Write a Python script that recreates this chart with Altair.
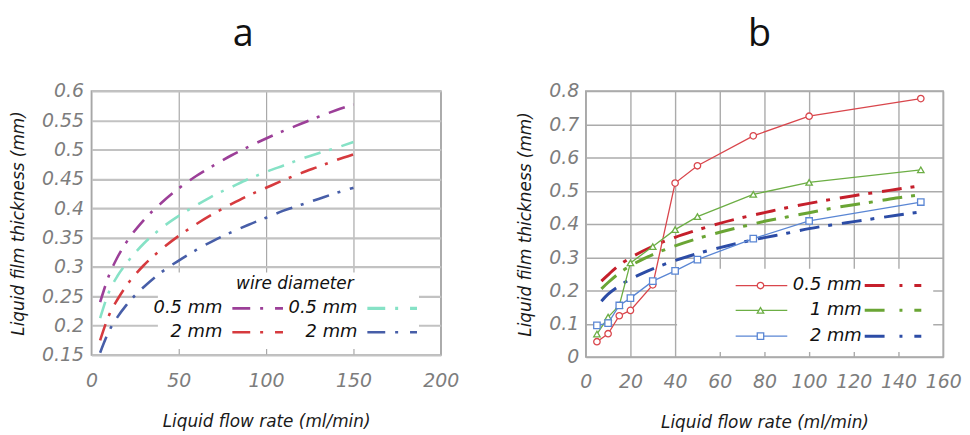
import altair as alt
import pandas as pd

FONT = "DejaVu Sans"

# ---------------- panel a data ----------------
A_X = [5, 10, 15, 20, 30, 40, 50, 60, 70, 80, 90, 100, 110, 120, 130, 140, 150]
A_PURPLE = [0.240, 0.285, 0.317, 0.342, 0.380, 0.409, 0.434, 0.455, 0.473, 0.490, 0.505, 0.519, 0.532, 0.544, 0.556, 0.567, 0.577]
A_CYAN = [0.213, 0.257, 0.285, 0.306, 0.340, 0.366, 0.387, 0.405, 0.422, 0.436, 0.450, 0.462, 0.473, 0.484, 0.494, 0.503, 0.513]
A_RED = [0.175, 0.217, 0.245, 0.268, 0.303, 0.330, 0.353, 0.373, 0.391, 0.407, 0.422, 0.435, 0.448, 0.460, 0.471, 0.482, 0.492]
A_BLUE = [0.154, 0.190, 0.215, 0.235, 0.266, 0.291, 0.311, 0.329, 0.345, 0.359, 0.372, 0.384, 0.396, 0.406, 0.416, 0.426, 0.435]
A_XTICKS = [0, 50, 100, 150, 200]
A_YTICKS = [0.15, 0.2, 0.25, 0.3, 0.35, 0.4, 0.45, 0.5, 0.55, 0.6]

# ---------------- panel b data ----------------
B_X_MEAS = [5, 10, 15, 20, 30, 40, 50, 75, 100, 150]
B_RED_MEAS = [0.046, 0.070, 0.124, 0.140, 0.217, 0.523, 0.575, 0.665, 0.724, 0.777]
B_GREEN_MEAS = [0.069, 0.120, 0.155, 0.283, 0.332, 0.383, 0.422, 0.489, 0.525, 0.563]
B_BLUE_MEAS = [0.095, 0.102, 0.155, 0.177, 0.228, 0.259, 0.293, 0.356, 0.409, 0.466]
B_X_FIT = [7, 10, 15, 20, 30, 40, 50, 60, 70, 80, 90, 100, 110, 120, 130, 140, 150]
B_RED_FIT = [0.228, 0.247, 0.276, 0.298, 0.333, 0.360, 0.382, 0.402, 0.419, 0.434, 0.449, 0.462, 0.474, 0.485, 0.495, 0.505, 0.515]
B_GREEN_FIT = [0.205, 0.224, 0.252, 0.274, 0.308, 0.334, 0.356, 0.375, 0.392, 0.408, 0.421, 0.434, 0.447, 0.458, 0.468, 0.479, 0.488]
B_BLUE_FIT = [0.168, 0.189, 0.214, 0.234, 0.265, 0.290, 0.311, 0.329, 0.345, 0.359, 0.372, 0.386, 0.397, 0.407, 0.417, 0.427, 0.436]
B_XTICKS = [0, 20, 40, 60, 80, 100, 120, 140, 160]
B_YTICKS = [0, 0.1, 0.2, 0.3, 0.4, 0.5, 0.6, 0.7, 0.8]

A_LABELS = ["0.5 mm", "2 mm"]
B_LABELS = ["0.5 mm", "1 mm", "2 mm"]

A_COLORS = {"purple": "#9c3f98", "cyan": "#86e2c6", "red": "#d63a3e", "blue": "#475ea8"}
B_MEAS_COLORS = ["#d9464c", "#6cae44", "#5a86d4"]
B_FIT_COLORS = ["#c51f2b", "#6aa534", "#2c4ca6"]
B_SHAPES = ["circle", "triangle-up", "square"]

A_DASH = [17, 9, 3, 10]
B_DASH = [20, 9, 4, 10]

W_A, H_A = 352, 266
W_B, H_B = 360, 268


def one():
    return pd.DataFrame({"k": [0]})


def txt(x, y, s, align="right", size=18):
    return alt.Chart(one()).mark_text(
        text=s, align=align, baseline="middle", font=FONT, fontStyle="italic",
        fontSize=size, color="#111111"
    ).encode(x=alt.value(x), y=alt.value(y))


def seg(x1, x2, y, color, width, dash=None):
    kw = dict(color=color, strokeWidth=width)
    if dash:
        kw["strokeDash"] = dash
    return alt.Chart(one()).mark_rule(**kw).encode(
        x=alt.value(x1), x2=alt.value(x2), y=alt.value(y))


def box(x1, x2, y1, y2):
    return alt.Chart(one()).mark_rect(color="white").encode(
        x=alt.value(x1), x2=alt.value(x2), y=alt.value(y1), y2=alt.value(y2))


label_style = dict(labelFont=FONT, labelFontStyle="italic", labelFontSize=19,
                   labelColor="#7d7d7d", labelOverlap=False, labelFlush=False,
                   titleFont=FONT, titleFontStyle="italic", titleFontSize=17,
                   titleFontWeight="normal", titleColor="#1a1a1a",
                   domain=False, ticks=False)

# ---------------- panel a ----------------
xa = alt.X("x:Q", scale=alt.Scale(domain=[0, 200], nice=False, zero=False),
           axis=alt.Axis(values=A_XTICKS, title="Liquid flow rate (ml/min)",
                         grid=True, gridColor="#a9a9a9", gridWidth=1.2,
                         labelPadding=17, titlePadding=23, **label_style))
ya = alt.Y("y:Q", scale=alt.Scale(domain=[0.15, 0.6], nice=False, zero=False),
           axis=alt.Axis(values=A_YTICKS, format=".2~f", title="Liquid film thickness (mm)",
                         grid=True, gridColor="#c2c2c2", gridWidth=2.2,
                         labelPadding=8, titlePadding=14, **label_style))


def curve_a(ys, color):
    df = pd.DataFrame({"x": A_X, "y": ys})
    return alt.Chart(df).mark_line(color=color, strokeDash=A_DASH, strokeWidth=2.6,
                                   interpolate="monotone").encode(x=xa, y=ya)


a_layers = [
    box(67, 330, 183, 260),
    curve_a(A_PURPLE, A_COLORS["purple"]),
    curve_a(A_CYAN, A_COLORS["cyan"]),
    curve_a(A_RED, A_COLORS["red"]),
    curve_a(A_BLUE, A_COLORS["blue"]),
    txt(205, 194, "wire diameter", align="center", size=17),
    txt(132, 219, A_LABELS[0]),
    txt(132, 243, A_LABELS[1]),
    txt(268, 219, A_LABELS[0]),
    txt(268, 243, A_LABELS[1]),
    seg(142, 193, 219, A_COLORS["purple"], 2.6, [18, 10, 3, 12]),
    seg(142, 193, 243, A_COLORS["red"], 2.6, [18, 10, 3, 12]),
    seg(278, 328, 219, A_COLORS["cyan"], 3.2, [18, 10, 3, 12]),
    seg(278, 328, 243, A_COLORS["blue"], 2.6, [18, 10, 3, 12]),
]
panel_a = alt.layer(*a_layers).properties(
    width=W_A, height=H_A, title=alt.TitleParams("a", dx=-23))

# ---------------- panel b ----------------
xb = alt.X("x:Q", scale=alt.Scale(domain=[0, 160], nice=False, zero=False),
           axis=alt.Axis(values=B_XTICKS, title="Liquid flow rate (ml/min)",
                         grid=True, gridColor="#ababab", gridWidth=1.4,
                         labelPadding=16, titlePadding=23, **label_style))
yb = alt.Y("y:Q", scale=alt.Scale(domain=[0, 0.8], nice=False, zero=False),
           axis=alt.Axis(values=B_YTICKS, format=".1~f", title="Liquid film thickness (mm)",
                         grid=True, gridColor="#ababab", gridWidth=1.4,
                         labelPadding=7, titlePadding=14, **label_style))


def meas_b(ys, color, shape):
    df = pd.DataFrame({"x": B_X_MEAS, "y": ys})
    line = alt.Chart(df).mark_line(color=color, strokeWidth=1.3).encode(x=xb, y=yb)
    pts = alt.Chart(df).mark_point(shape=shape, size=42, filled=True, fill="white",
                                   stroke=color, strokeWidth=1.3, opacity=1).encode(x=xb, y=yb)
    return [line, pts]


def fit_b(ys, color):
    df = pd.DataFrame({"x": B_X_FIT, "y": ys})
    return alt.Chart(df).mark_line(color=color, strokeDash=B_DASH, strokeWidth=3,
                                   interpolate="monotone").encode(x=xb, y=yb)


b_layers = [box(92, 350, 179, 263)]
for ys, c in zip([B_RED_FIT, B_GREEN_FIT, B_BLUE_FIT], B_FIT_COLORS):
    b_layers.append(fit_b(ys, c))
for ys, c, s in zip([B_RED_MEAS, B_GREEN_MEAS, B_BLUE_MEAS], B_MEAS_COLORS, B_SHAPES):
    b_layers.extend(meas_b(ys, c, s))

rows_y = [196, 221, 247]
for i, yy in enumerate(rows_y):
    b_layers.append(seg(151, 203, yy, B_MEAS_COLORS[i], 1.3))
    b_layers.append(
        alt.Chart(one()).mark_point(shape=B_SHAPES[i], size=42, filled=True, fill="white",
                                    stroke=B_MEAS_COLORS[i], strokeWidth=1.3, opacity=1)
        .encode(x=alt.value(176), y=alt.value(yy)))
    b_layers.append(txt(278, yy, B_LABELS[i]))
    b_layers.append(seg(281, 338, yy, B_FIT_COLORS[i], 3, [20, 15, 3, 12]))

panel_b = alt.layer(*b_layers).properties(
    width=W_B, height=H_B, title=alt.TitleParams("b", dx=-5))

chart = alt.hconcat(panel_a, panel_b, spacing=57).properties(
    padding={"left": 0, "top": 6, "right": 0, "bottom": 0}
).configure_view(
    stroke="#a6a6a6", strokeWidth=1.5
).configure_title(
    font="Open Sans", fontSize=38, fontWeight="normal", color="#111111",
    anchor="middle", offset=28
)

chart.save("out.html", embed_options={"renderer": "svg", "actions": False})
